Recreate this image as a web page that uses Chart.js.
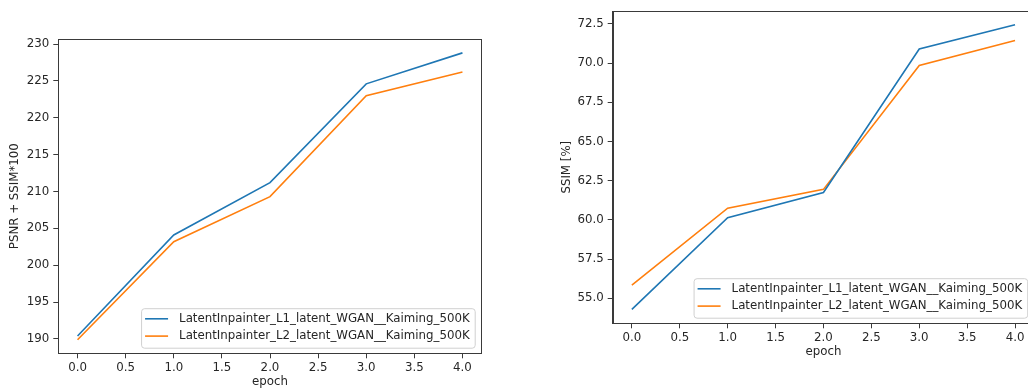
<!DOCTYPE html>
<html>
<head>
<meta charset="utf-8">
<script src="https://cdn.jsdelivr.net/npm/chart.js@4.4.0/dist/chart.umd.min.js"></script>
<style>
  html, body { margin: 0; padding: 0; background: #fff; overflow: hidden; width: 1028px; height: 389px; }
  .painel { position: absolute; top: 0; }
</style>
</head>
<body>
<div class="painel" style="left:0px"><canvas id="psnrChart" width="500" height="389"></canvas></div>
<div class="painel" style="left:540px"><canvas id="ssimChart" width="520" height="389"></canvas></div>
<script>
// Dados das curvas de treino
const epochs = [0, 1, 2, 3, 4];
const seriesNames = ['LatentInpainter_L1_latent_WGAN__Kaiming_500K', 'LatentInpainter_L2_latent_WGAN__Kaiming_500K'];
const seriesColors = ['#1f77b4', '#ff7f0e'];

const psnrL1 = [190.4, 204.1, 211.2, 224.6, 228.8];
const psnrL2 = [189.9, 203.2, 209.3, 223.0, 226.2];

const ssimL1 = [54.3, 60.15, 61.75, 70.9, 72.45];
const ssimL2 = [55.85, 60.75, 61.95, 69.85, 71.45];

const xTickStep = 0.5;
const psnrTickStep = 5;
const ssimTickStep = 2.5;

const FONT = '"DejaVu Sans", Verdana, sans-serif';
const FONT_SIZE = 11.8;
const TEXT = '#262626';
const SPINE = '#3a3a3a';

// Moldura, legenda e títulos dos eixos (estilo matplotlib)
const framePlugin = {
    id: 'frame',
    afterDatasetsDraw(chart, args, opts) {
        const ctx = chart.ctx;
        const a = chart.chartArea;
        ctx.save();
        ctx.strokeStyle = SPINE;
        ctx.lineWidth = 1;
        ctx.strokeRect(Math.round(a.left) + 0.5, Math.round(a.top) + 0.5,
            Math.round(a.right - a.left), Math.round(a.bottom - a.top));

        // legenda no canto inferior direito
        ctx.font = FONT_SIZE + 'px ' + FONT;
        const sets = chart.data.datasets;
        const textW = Math.max(...sets.map(d => ctx.measureText(d.label).width));
        const w = 38 + textW + 5;
        const h = 39.5;
        const x = a.right - 7 - w;
        const y = a.bottom - 5.6 - h;
        ctx.beginPath();
        ctx.roundRect(x + 0.5, y + 0.5, w, h, 3);
        ctx.fillStyle = 'rgba(255,255,255,0.8)';
        ctx.fill();
        ctx.strokeStyle = '#d0d0d0';
        ctx.stroke();
        sets.forEach((d, i) => {
            const cy = y + 10.6 + i * 17.3;
            ctx.beginPath();
            ctx.moveTo(x + 4, cy);
            ctx.lineTo(x + 27, cy);
            ctx.strokeStyle = d.borderColor;
            ctx.lineWidth = 1.6;
            ctx.stroke();
            ctx.fillStyle = TEXT;
            ctx.textBaseline = 'middle';
            ctx.textAlign = 'left';
            ctx.fillText(d.label, x + 38, cy);
        });

        // títulos dos eixos
        ctx.fillStyle = TEXT;
        ctx.textAlign = 'center';
        ctx.textBaseline = 'middle';
        ctx.fillText('epoch', (a.left + a.right) / 2, a.bottom + opts.xTitleOffset);
        ctx.translate(a.left - opts.yTitleOffset, (a.top + a.bottom) / 2);
        ctx.rotate(-Math.PI / 2);
        ctx.fillText(opts.yTitle, 0, 0);
        ctx.restore();
    }
};

function pontos(values) {
    return epochs.map((e, i) => ({ x: e, y: values[i] }));
}

function criarGrafico(id, series, yMin, yMax, yStep, yDecimals, yTitle, yWidth, padding, yTitleOffset) {
    const tickFont = { family: FONT, size: FONT_SIZE };
    const config = {
        type: 'line',
        data: {
            datasets: series.map((vals, i) => ({
                label: seriesNames[i],
                data: pontos(vals),
                borderColor: seriesColors[i],
                backgroundColor: seriesColors[i],
                borderWidth: 1.6,
                pointRadius: 0,
                tension: 0,
                fill: false
            }))
        },
        options: {
            responsive: false,
            animation: false,
            devicePixelRatio: 1,
            layout: { padding: padding },
            plugins: {
                legend: { display: false },
                tooltip: { enabled: false },
                frame: { yTitle: yTitle, yTitleOffset: yTitleOffset, xTitleOffset: 29 }
            },
            scales: {
                x: {
                    type: 'linear',
                    min: -0.2,
                    max: 4.2,
                    afterFit: s => { s.height = 30; },
                    border: { display: true, color: SPINE, width: 1 },
                    grid: { drawOnChartArea: false, drawTicks: true, tickLength: 5, color: SPINE },
                    ticks: {
                        stepSize: xTickStep, includeBounds: false, autoSkip: false, maxRotation: 0,
                        padding: 3, color: TEXT, font: tickFont,
                        callback: v => v.toFixed(1)
                    }
                },
                y: {
                    min: yMin,
                    max: yMax,
                    afterFit: s => { s.width = yWidth; },
                    border: { display: true, color: SPINE, width: 1 },
                    grid: { drawOnChartArea: false, drawTicks: true, tickLength: 5, color: SPINE },
                    ticks: {
                        stepSize: yStep, includeBounds: false, autoSkip: false,
                        padding: 4, color: TEXT, font: tickFont,
                        callback: v => v.toFixed(yDecimals)
                    }
                }
            }
        },
        plugins: [framePlugin]
    };
    return new Chart(document.getElementById(id).getContext('2d'), config);
}

criarGrafico('psnrChart', [psnrL1, psnrL2], 188.06, 230.68, psnrTickStep, 0,
    'PSNR + SSIM*100', 58.3, { left: 0, top: 39, right: 18.3, bottom: 5.7 }, 43.3);

criarGrafico('ssimChart', [ssimL1, ssimL2], 53.41, 73.32, ssimTickStep, 1,
    'SSIM [%]', 72.7, { left: 0, top: 9.3, right: 25.8, bottom: 35.7 }, 46);
</script>
</body>
</html>
